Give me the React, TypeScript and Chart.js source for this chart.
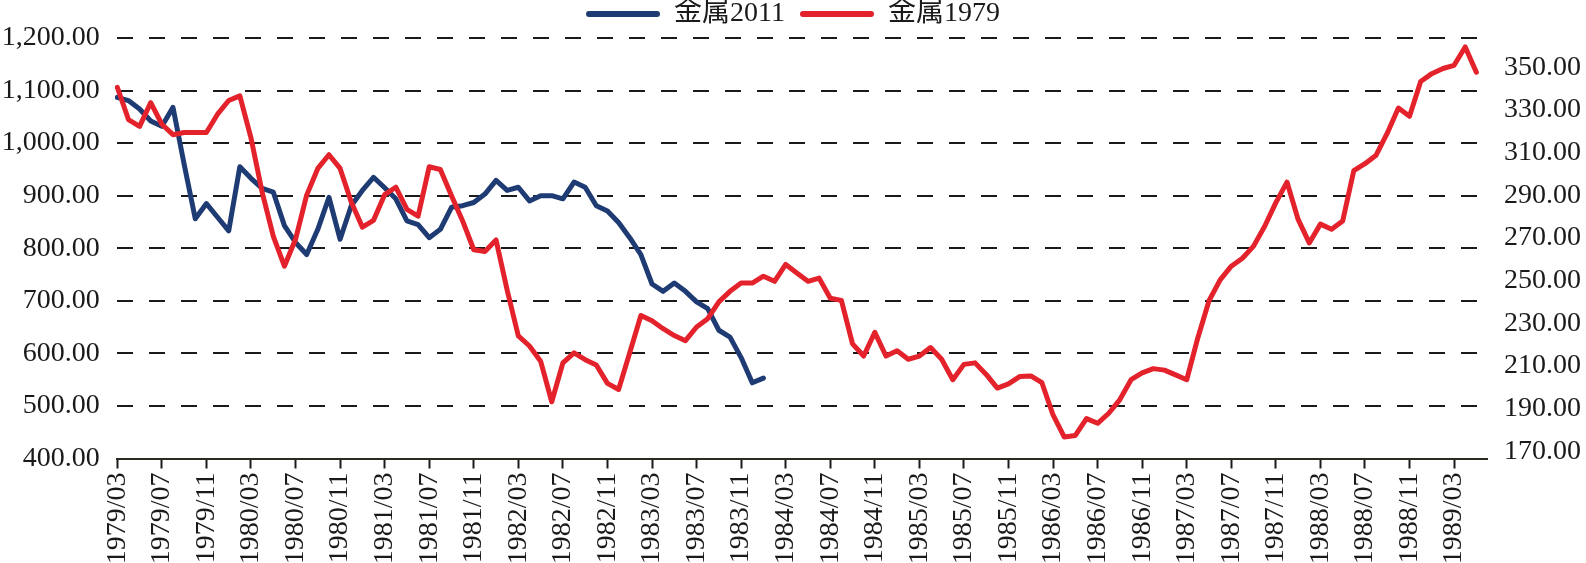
import React, { useEffect, useRef } from "react";
import { Chart, registerables } from "chart.js";

Chart.register(...registerables);

const monthLabels = [
  "1979/03", "1979/04", "1979/05", "1979/06", "1979/07", "1979/08", "1979/09", "1979/10", "1979/11", "1979/12",
  "1980/01", "1980/02", "1980/03", "1980/04", "1980/05", "1980/06", "1980/07", "1980/08", "1980/09", "1980/10", "1980/11", "1980/12",
  "1981/01", "1981/02", "1981/03", "1981/04", "1981/05", "1981/06", "1981/07", "1981/08", "1981/09", "1981/10", "1981/11", "1981/12",
  "1982/01", "1982/02", "1982/03", "1982/04", "1982/05", "1982/06", "1982/07", "1982/08", "1982/09", "1982/10", "1982/11", "1982/12",
  "1983/01", "1983/02", "1983/03", "1983/04", "1983/05", "1983/06", "1983/07", "1983/08", "1983/09", "1983/10", "1983/11", "1983/12",
  "1984/01", "1984/02", "1984/03", "1984/04", "1984/05", "1984/06", "1984/07", "1984/08", "1984/09", "1984/10", "1984/11", "1984/12",
  "1985/01", "1985/02", "1985/03", "1985/04", "1985/05", "1985/06", "1985/07", "1985/08", "1985/09", "1985/10", "1985/11", "1985/12",
  "1986/01", "1986/02", "1986/03", "1986/04", "1986/05", "1986/06", "1986/07", "1986/08", "1986/09", "1986/10", "1986/11", "1986/12",
  "1987/01", "1987/02", "1987/03", "1987/04", "1987/05", "1987/06", "1987/07", "1987/08", "1987/09", "1987/10", "1987/11", "1987/12",
  "1988/01", "1988/02", "1988/03", "1988/04", "1988/05", "1988/06", "1988/07", "1988/08", "1988/09", "1988/10", "1988/11", "1988/12",
  "1989/01", "1989/02", "1989/03", "1989/04", "1989/05", "1989/06",
];

// 金属2011 (left axis)
const metal2011 = [
  1087, 1081, 1065, 1042, 1032, 1068, 960, 856, 885, 859,
  833, 955, 933, 914, 907, 843, 811, 788, 836, 897,
  817, 881, 910, 935, 915, 894, 852, 845, 820, 836,
  878, 881, 887, 903, 929, 910, 916, 890, 900, 900,
  894, 926, 916, 881, 871, 849, 820, 788, 732, 718,
  734, 718, 698, 685, 644, 631, 592, 544, 553,
];

// 金属1979 (right axis)
const metal1979 = [
  340.6, 325.5, 322.3, 333.4, 323.3, 318.4, 319.4, 319.4, 319.4, 328.0,
  334.4, 336.6, 316.9, 291.5, 270.9, 256.8, 269.4, 290.1, 302.6, 309.0,
  302.6, 286.9, 275.1, 278.3, 290.3, 293.8, 283.4, 280.2, 303.4, 302.1,
  289.8, 278.0, 264.5, 263.7, 269.1, 245.5, 224.1, 219.4, 212.3, 193.3,
  211.5, 216.2, 213.0, 210.5, 201.9, 199.0, 216.2, 233.7, 231.2, 227.5,
  224.3, 221.9, 228.3, 232.2, 240.1, 245.0, 248.9, 248.9, 252.1, 249.7,
  257.6, 253.6, 249.7, 251.2, 241.8, 240.8, 220.4, 214.7, 225.8, 214.7,
  217.2, 213.2, 214.7, 218.7, 213.2, 203.6, 210.8, 211.5, 206.1, 199.7,
  201.7, 205.1, 205.4, 202.2, 187.1, 176.8, 177.5, 185.4, 183.2, 187.9,
  194.3, 203.6, 206.8, 208.8, 208.1, 205.9, 203.6, 223.3, 240.6, 250.4,
  256.8, 260.5, 266.2, 275.5, 286.6, 296.2, 278.7, 267.7, 276.5, 274.1,
  278.0, 301.6, 304.8, 308.8, 319.1, 330.9, 327.0, 343.3, 347.0, 349.4,
  350.9, 359.5, 347.7,
];

const rightTickValues = [170, 190, 210, 230, 250, 270, 290, 310, 330, 350];

const FONT = "'Liberation Serif', 'Noto Sans CJK SC', serif";
const TEXT = "#1a1a1a";
const BLUE = "#1f3b73";
const RED = "#e3222b";

export default function App() {
  const ref = useRef<HTMLCanvasElement | null>(null);

  useEffect(() => {
    if (!ref.current) return;
    Chart.defaults.font.family = FONT;
    const chart = new Chart(ref.current, {
      type: "line",
      data: {
        labels: monthLabels,
        datasets: [
          {
            label: "金属2011",
            data: metal2011,
            yAxisID: "y",
            borderColor: BLUE,
            backgroundColor: BLUE,
            borderWidth: 5,
            pointRadius: 0,
            tension: 0,
            borderJoinStyle: "round",
            borderCapStyle: "round",
            order: 1,
          },
          {
            label: "金属1979",
            data: metal1979,
            yAxisID: "y1",
            borderColor: RED,
            backgroundColor: RED,
            borderWidth: 5,
            pointRadius: 0,
            tension: 0,
            borderJoinStyle: "round",
            borderCapStyle: "round",
            order: 0,
          },
        ],
      },
      options: {
        responsive: false,
        animation: false,
        layout: { padding: { top: -15, left: 0, right: 0, bottom: 0 } },
        plugins: {
          tooltip: { enabled: false },
          legend: {
            display: true,
            position: "top",
            align: "center",
            labels: {
              font: { family: FONT, size: 28 },
              color: TEXT,
              boxWidth: 74,
              boxHeight: 6,
              padding: 15,
              useBorderRadius: true,
              borderRadius: 3,
              generateLabels: (c: any) =>
                c.data.datasets.map((ds: any, i: number) => ({
                  text: ds.label,
                  fillStyle: ds.borderColor,
                  strokeStyle: ds.borderColor,
                  lineWidth: 0,
                  hidden: false,
                  datasetIndex: i,
                  fontColor: TEXT,
                  borderRadius: 3,
                })),
            },
          },
        },
        scales: {
          x: {
            type: "category",
            offset: false,
            afterBuildTicks: (scale: any) => {
              scale.ticks = scale.ticks.filter((t: any) => t.value % 4 === 0);
            },
            afterFit: (scale: any) => {
              scale.height = 104.5;
            },
            grid: {
              drawOnChartArea: false,
              drawTicks: true,
              tickLength: 10,
              tickColor: TEXT,
              tickWidth: 2,
            },
            border: { display: true, color: "#2a2a20", width: 2 },
            ticks: {
              autoSkip: false,
              maxRotation: 90,
              minRotation: 90,
              padding: 4,
              color: TEXT,
              font: { family: FONT, size: 28 },
            },
          },
          y: {
            type: "linear",
            position: "left",
            min: 400,
            max: 1200,
            afterFit: (scale: any) => {
              scale.width = 117.3;
            },
            grid: {
              drawTicks: false,
              lineWidth: 2,
              color: (ctx: any) =>
                ctx.tick && ctx.tick.value === 400 ? "rgba(0,0,0,0)" : TEXT,
            },
            border: { display: false, dash: [16, 16] },
            ticks: {
              stepSize: 100,
              padding: 17.5,
              color: TEXT,
              font: { family: FONT, size: 28 },
              callback: (v: any) =>
                Number(v).toLocaleString("en-US", {
                  minimumFractionDigits: 2,
                  maximumFractionDigits: 2,
                }),
            },
          },
          y1: {
            type: "linear",
            position: "right",
            min: 166.7,
            max: 363.7,
            afterBuildTicks: (scale: any) => {
              scale.ticks = rightTickValues.map((v) => ({ value: v }));
            },
            afterFit: (scale: any) => {
              scale.width = 98.5;
            },
            grid: { display: false, drawTicks: false },
            border: { display: false },
            ticks: {
              padding: 16.5,
              color: TEXT,
              font: { family: FONT, size: 28 },
              callback: (v: any) => Number(v).toFixed(2),
            },
          },
        },
      },
    } as any);
    return () => chart.destroy();
  }, []);

  return (
    <div
      style={{
        position: "fixed",
        left: 0,
        top: 0,
        width: 1586,
        height: 563,
        background: "#ffffff",
        overflow: "hidden",
      }}
    >
      <canvas ref={ref} width={1586} height={563} style={{ display: "block" }} />
    </div>
  );
}
